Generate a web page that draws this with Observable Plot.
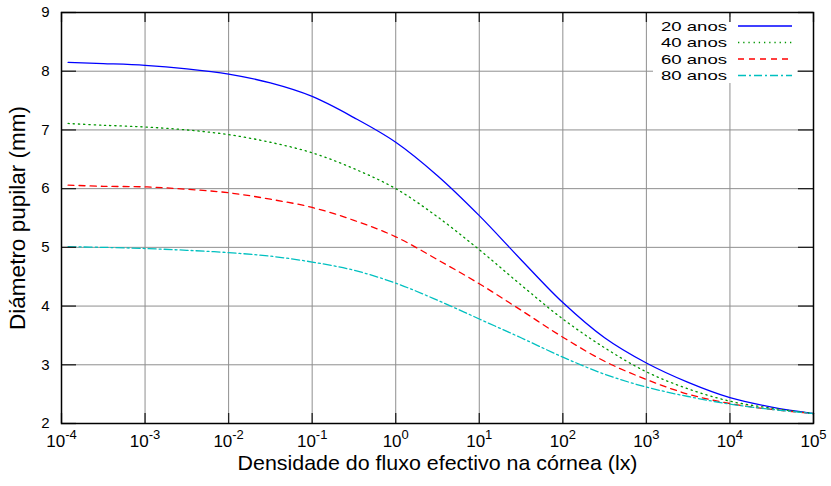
<!DOCTYPE html>
<html><head><meta charset="utf-8">
<script src="https://cdn.jsdelivr.net/npm/d3@7"></script>
<script src="https://cdn.jsdelivr.net/npm/@observablehq/plot@0.6"></script>
<style>
body{margin:0;background:#fff;}
#chart svg{font-family:"Liberation Sans",Arial,sans-serif;background:#fff;}
</style></head><body><div id="chart"></div>
<script>
// Illuminance (lx) sample points
const lux = [1.2e-4, 3.16e-4, 1e-3, 3.16e-3, 1e-2, 3.16e-2, 1e-1, 3.16e-1, 1, 3.16, 10, 31.6, 100, 316, 1000, 3162, 1e4, 31623, 1e5];
const ages = ["20 anos", "40 anos", "60 anos", "80 anos"];
const d20 = [8.15, 8.13, 8.10, 8.04, 7.95, 7.80, 7.57, 7.21, 6.79, 6.22, 5.54, 4.79, 4.06, 3.46, 3.03, 2.70, 2.44, 2.28, 2.17];
const d40 = [7.11, 7.08, 7.05, 7.00, 6.92, 6.79, 6.61, 6.34, 6.00, 5.52, 4.96, 4.36, 3.78, 3.29, 2.88, 2.59, 2.38, 2.26, 2.17];
const d60 = [6.06, 6.04, 6.03, 5.99, 5.93, 5.82, 5.68, 5.46, 5.18, 4.79, 4.38, 3.93, 3.47, 3.06, 2.75, 2.50, 2.34, 2.24, 2.17];
const d80 = [5.01, 5.00, 4.98, 4.95, 4.91, 4.85, 4.75, 4.61, 4.39, 4.10, 3.78, 3.46, 3.13, 2.84, 2.62, 2.46, 2.33, 2.24, 2.17];
const xTicks = [1e-4, 1e-3, 1e-2, 1e-1, 1, 10, 100, 1000, 1e4, 1e5];
const yTicks = [2, 3, 4, 5, 6, 7, 8, 9];
const xTitle = "Densidade do fluxo efectivo na córnea (lx)";
const yTitle = "Diámetro pupilar (mm)";
const colors = ["#0000ff", "#009600", "#ff0000", "#00c0c0"];
const dashes = [undefined, "1.3,3.9", "6,5", "8,3,2,3"];

const series = [d20, d40, d60, d80];
const data = series.flatMap((vals, i) => vals.map((v, j) => ({x: lux[j], y: v, s: ages[i]})));

const W = 831, H = 486, mL = 61, mR = 18, mT = 12, mB = 63;
const iw = W - mL - mR, ih = H - mT - mB;

const plot = Plot.plot({
  width: W, height: H,
  marginLeft: mL, marginRight: mR, marginTop: mT, marginBottom: mB,
  x: {type: "log", domain: [1e-4, 1e5]},
  y: {domain: [2, 9]},
  marks: [
    Plot.gridX(xTicks, {stroke: "#8f8f8f", strokeOpacity: 1, strokeWidth: 1}),
    Plot.gridY(yTicks.slice(1, -1), {stroke: "#8f8f8f", strokeOpacity: 1, strokeWidth: 1}),
    ...ages.map((a, i) => Plot.line(data.filter(d => d.s === a), {
      x: "x", y: "y", stroke: colors[i], strokeWidth: 1.3,
      strokeDasharray: dashes[i], curve: "catmull-rom"
    })),
    Plot.ruleX(xTicks, {insetTop: ih - 10, stroke: "#222", strokeWidth: 1.3}),
    Plot.ruleX(xTicks, {insetBottom: ih - 10, stroke: "#222", strokeWidth: 1.3}),
    Plot.ruleY(yTicks, {insetRight: iw - 15, stroke: "#222", strokeWidth: 1.3}),
    Plot.ruleY(yTicks, {insetLeft: iw - 15, stroke: "#222", strokeWidth: 1.3}),
    Plot.frame({stroke: "#000", strokeWidth: 1.5}),
    Plot.axisX(xTicks, {tickSize: 0, tickPadding: 11, fontSize: 17, label: null,
      tickFormat: d => "10^" + Math.round(Math.log10(d))}),
    Plot.axisY(yTicks, {tickSize: 0, tickPadding: 12, fontSize: 15, label: null, tickFormat: d => String(d)}),
    Plot.text([xTitle], {frameAnchor: "bottom", dy: 46, fontSize: 21, text: d => d, fill: "#000"}),
    Plot.text([yTitle], {frameAnchor: "left", dx: -44, rotate: -90, textAnchor: "middle", lineAnchor: "middle",
      fontSize: 22.5, text: d => d, fill: "#000"})
  ]
});
document.getElementById("chart").appendChild(plot);

const svg = d3.select(plot);
svg.selectAll('g[aria-label="x-axis tick label"] text').each(function () {
  const s = this.textContent;
  const [b, e] = s.split("^");
  const t = d3.select(this);
  t.text(null);
  t.append("tspan").text(b);
  t.append("tspan").attr("dy", -7.5).attr("font-size", 13).text(e);
});
svg.selectAll('g[aria-label="x-axis tick label"], g[aria-label="y-axis tick label"]').attr("fill", "#000");
svg.selectAll('g[aria-label="text"] text').each(function () {
  if (this.textContent === xTitle) d3.select(this).attr("textLength", 400).attr("lengthAdjust", "spacingAndGlyphs");
});

// Legend (inside the plot, top right)
const xR = W - mR;
const lg = svg.append("g").attr("aria-label", "legend");
lg.append("rect").attr("x", xR - 160).attr("y", mT + 5).attr("width", 144).attr("height", 66).attr("fill", "#fff");
ages.forEach((a, i) => {
  const y = mT + 14 + i * 16.5;
  lg.append("text").attr("x", xR - 86).attr("y", y).attr("dy", "0.35em")
    .attr("text-anchor", "end").attr("font-size", 13.5).attr("fill", "#000")
    .attr("textLength", 66).attr("lengthAdjust", "spacingAndGlyphs").text(a);
  lg.append("line").attr("x1", xR - 75).attr("x2", xR - 21).attr("y1", y).attr("y2", y)
    .attr("stroke", colors[i]).attr("stroke-width", 1.3)
    .attr("stroke-dasharray", dashes[i] || null);
});
const yg = svg.select('g[aria-label="y-grid"]').node();
if (yg) yg.parentNode.insertBefore(lg.node(), yg.nextSibling);
</script>
</body></html>
